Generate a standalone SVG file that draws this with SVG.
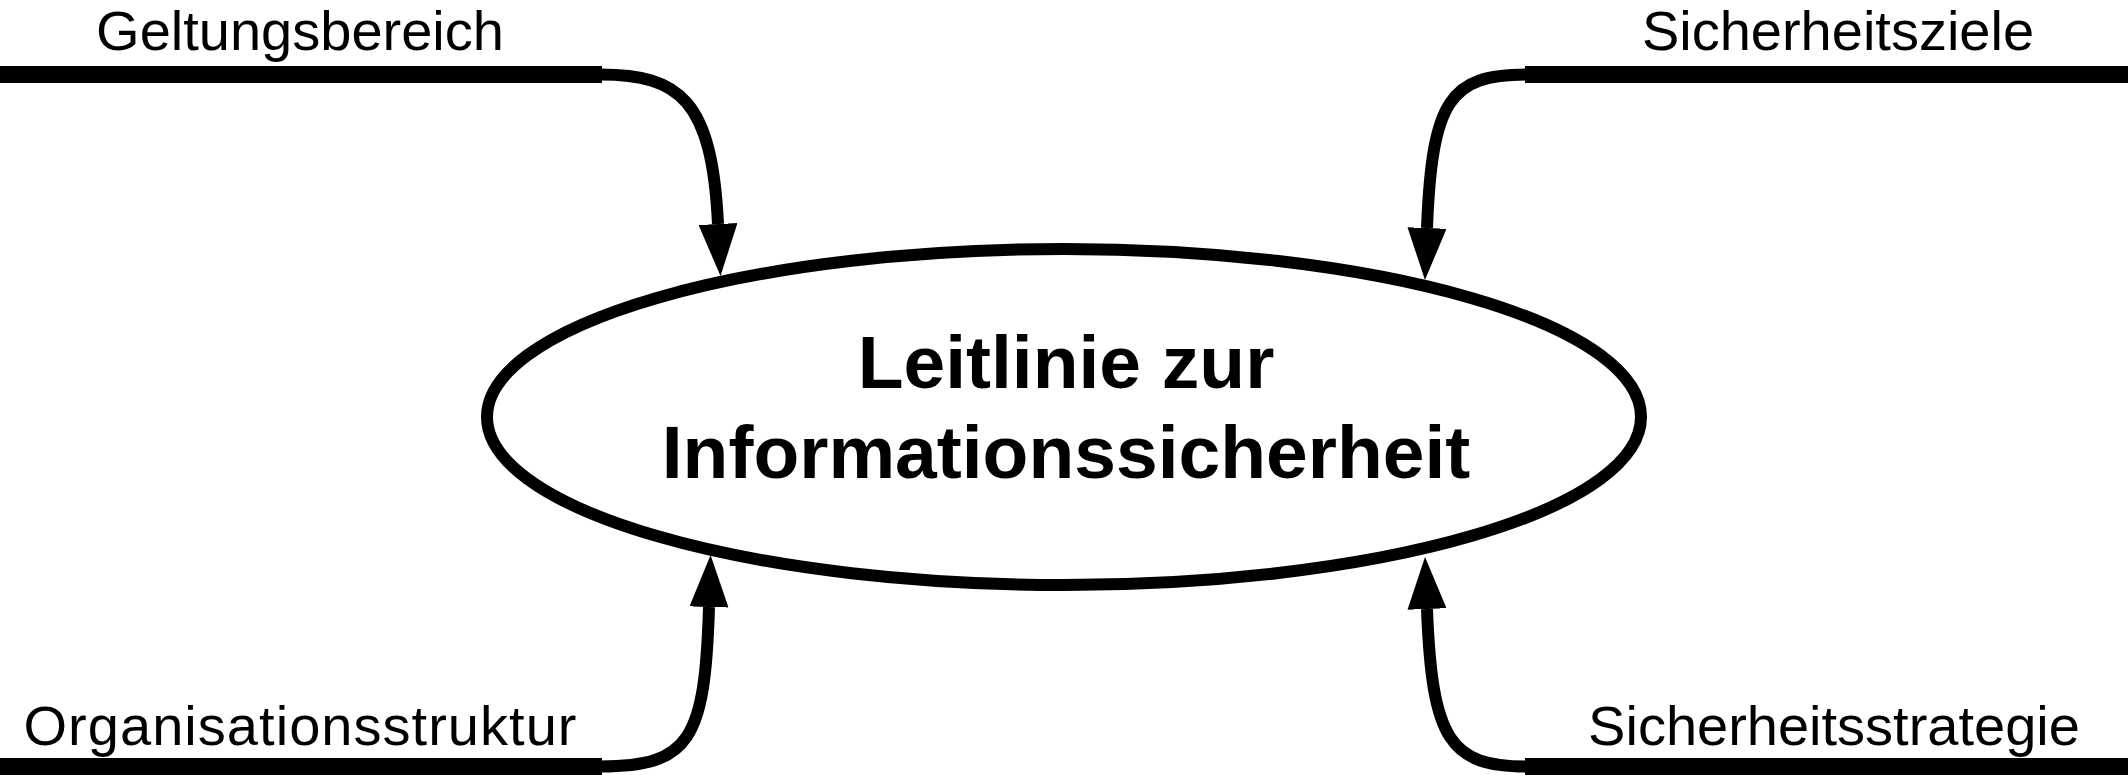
<svg xmlns="http://www.w3.org/2000/svg" width="2128" height="775" viewBox="0 0 2128 775">
  <style>
    .bar { stroke: #000; stroke-width: 17; fill: none; stroke-linecap: butt; }
    .curve { stroke: #000; stroke-width: 12; fill: none; marker-end: url(#arrow); }
    .label { font-family: "Liberation Sans", Arial, sans-serif; font-size: 56px; fill: #000; text-anchor: middle; }
    .title { font-family: "Liberation Sans", Arial, sans-serif; font-size: 75px; font-weight: bold; fill: #000; text-anchor: middle; }
  </style>
  <defs>
    <marker id="arrow" viewBox="0 0 52 39" refX="0" refY="19.5" markerWidth="52" markerHeight="39" markerUnits="userSpaceOnUse" orient="auto">
      <path d="M0,0 L52,19.5 L0,39 Z" fill="#000"/>
    </marker>
  </defs>
  <rect width="2128" height="775" fill="#fff"/>

  <g id="node-leitlinie">
    <ellipse cx="1064" cy="417" rx="577" ry="168" fill="#fff" stroke="#000" stroke-width="12"/>
    <text class="title" x="1066" y="388">Leitlinie zur</text>
    <text class="title" x="1066" y="478">Informationssicherheit</text>
  </g>

  <g id="node-geltungsbereich">
    <text class="label" x="300" y="50">Geltungsbereich</text>
    <path class="bar" d="M0,74.5 H602"/>
  </g>

  <g id="node-sicherheitsziele">
    <text class="label" x="1838" y="50">Sicherheitsziele</text>
    <path class="bar" d="M1525,74.5 H2128"/>
  </g>

  <g id="node-organisationsstruktur">
    <text class="label" x="300" y="745" textLength="553" lengthAdjust="spacing">Organisationsstruktur</text>
    <path class="bar" d="M0,766.5 H602"/>
  </g>

  <g id="node-sicherheitsstrategie">
    <text class="label" x="1834" y="745">Sicherheitsstrategie</text>
    <path class="bar" d="M1525,766.5 H2128"/>
  </g>

  <g id="connectors">
    <path class="curve" d="M600,74.5 C680,74.5 712,100 718,224"/>
    <path class="curve" d="M1527,74.5 C1450,74.5 1432,100 1427,228"/>
    <path class="curve" d="M600,766.5 C690,766.5 705,740 709,607"/>
    <path class="curve" d="M1527,766.5 C1450,766.5 1432,740 1427,609"/>
  </g>
</svg>
